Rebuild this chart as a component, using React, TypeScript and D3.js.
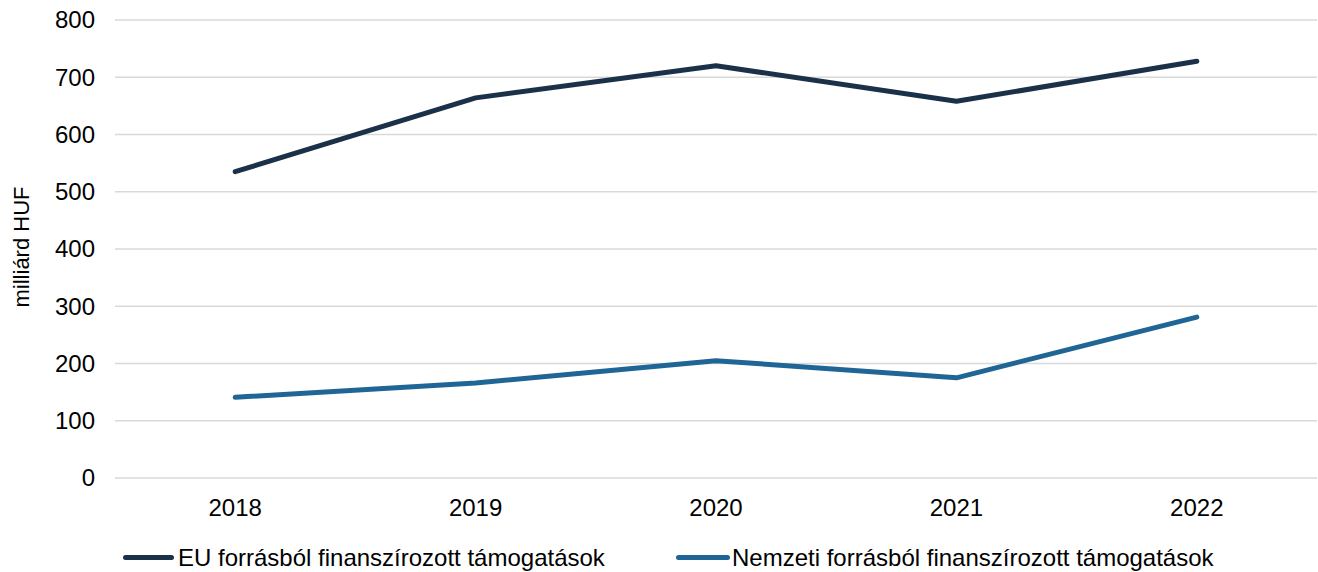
import React from "react";
import * as d3 from "d3";

const years = ["2018", "2019", "2020", "2021", "2022"];
const euValues = [535, 664, 720, 658, 728];
const nationalValues = [141, 166, 205, 175, 281];
const yTicks = [0, 100, 200, 300, 400, 500, 600, 700, 800];
const seriesNames = [
  "EU forrásból finanszírozott támogatások",
  "Nemzeti forrásból finanszírozott támogatások",
];
const colors = ["#1b3149", "#1f6696"];

export default function App() {
  const W = 1318;
  const H = 572;
  const left = 115;
  const right = 1317;
  const top = 20;
  const bottom = 478;
  const font = "'Liberation Sans', Arial, sans-serif";

  const x = d3.scaleBand<string>().domain(years).range([left, right]);
  const y = d3.scaleLinear().domain([0, 800]).range([bottom, top]);
  const cx = (d: string) => (x(d) as number) + x.bandwidth() / 2;

  const line = d3
    .line<number>()
    .x((_, i) => cx(years[i]))
    .y((v) => y(v));

  const series = [euValues, nationalValues];
  const legend = [
    { x1: 125.5, x2: 171.5, tx: 178 },
    { x1: 678.5, x2: 727.5, tx: 732 },
  ];

  return (
    <svg
      width={W}
      height={H}
      style={{ position: "absolute", left: 0, top: 0, background: "#fff" }}
      fontFamily={font}
    >
      {yTicks.map((t) => (
        <g key={t}>
          <line x1={left} x2={right} y1={y(t)} y2={y(t)} stroke="#d9d9d9" strokeWidth={1.3} />
          <text x={95} y={y(t)} dy="0.35em" textAnchor="end" fontSize={24} fill="#000">
            {t}
          </text>
        </g>
      ))}
      {years.map((yr) => (
        <text key={yr} x={cx(yr)} y={515.5} textAnchor="middle" fontSize={24} fill="#000">
          {yr}
        </text>
      ))}
      <text
        transform={`translate(29,247) rotate(-90)`}
        textAnchor="middle"
        fontSize={22}
        fill="#000"
      >
        milliárd HUF
      </text>
      {series.map((s, i) => (
        <path
          key={i}
          d={line(s) as string}
          fill="none"
          stroke={colors[i]}
          strokeWidth={5}
          strokeLinecap="round"
          strokeLinejoin="round"
        />
      ))}
      {seriesNames.map((n, i) => (
        <g key={n}>
          <line
            x1={legend[i].x1}
            x2={legend[i].x2}
            y1={557.5}
            y2={557.5}
            stroke={colors[i]}
            strokeWidth={5}
            strokeLinecap="round"
          />
          <text x={legend[i].tx} y={557.5} dy="0.35em" fontSize={24} fill="#000">
            {n}
          </text>
        </g>
      ))}
    </svg>
  );
}
